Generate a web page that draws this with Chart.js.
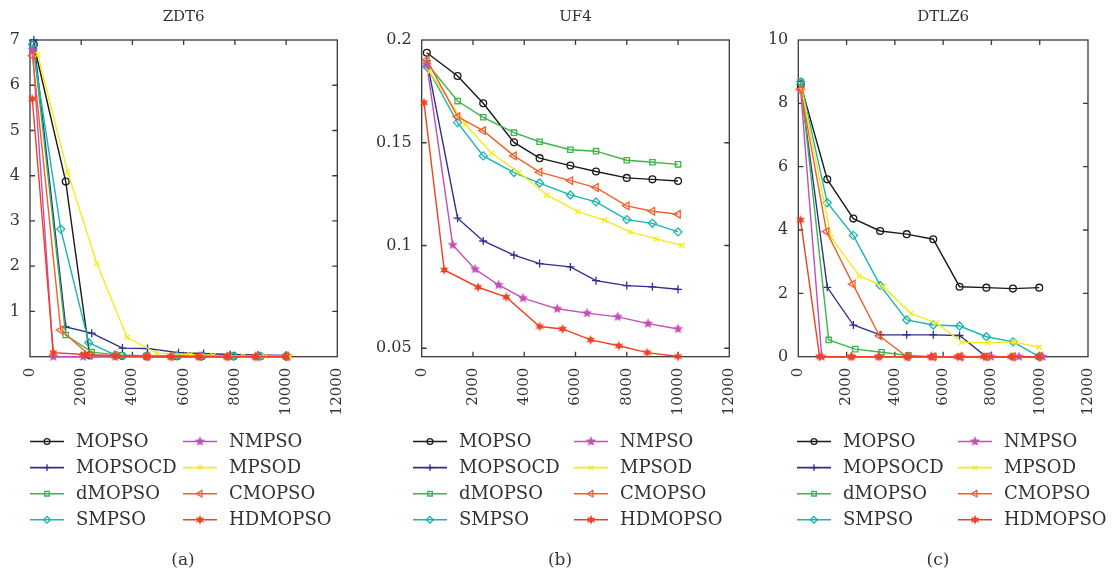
<!DOCTYPE html>
<html>
<head>
<meta charset="utf-8">
<script src="https://cdn.jsdelivr.net/npm/chart.js@4.4.1/dist/chart.umd.min.js"></script>
<style>
  html, body { margin: 0; padding: 0; background: #fff; }
  #wrap { position: relative; width: 1117px; height: 578px; overflow: hidden; background: #fff; }
  #wrap canvas { position: absolute; left: 0; top: 0; }
</style>
</head>
<body>
<div id="wrap">
  <canvas id="chartA" width="1117" height="578"></canvas>
  <canvas id="chartB" width="1117" height="578"></canvas>
  <canvas id="chartC" width="1117" height="578"></canvas>
</div>
<script>
// ---- algorithms ----
const SERIES = ['MOPSO', 'MOPSOCD', 'dMOPSO', 'SMPSO', 'NMPSO', 'MPSOD', 'CMOPSO', 'HDMOPSO'];

// ---- shared axis ticks ----
const X_TICKS = [0, 2000, 4000, 6000, 8000, 10000, 12000];
const ZDT6_Y_TICKS = [1, 2, 3, 4, 5, 6, 7];
const UF4_Y_TICKS = [0.05, 0.1, 0.15, 0.2];
const DTLZ6_Y_TICKS = [0, 2, 4, 6, 8, 10];

// ---- ZDT6 ----
const zdt6X_MOPSO   = [150, 1395, 2330, 3590, 4560, 5740, 6710, 7950, 8990, 10010];
const zdt6Y_MOPSO   = [6.9, 3.87, 0.03, 0.02, 0.01, 0.01, 0.01, 0.01, 0.01, 0.01];
const zdt6X_MOPSOCD = [150, 1395, 2410, 3610, 4590, 5800, 6780, 7820, 8900, 10010];
const zdt6Y_MOPSOCD = [7.0, 0.66, 0.52, 0.19, 0.18, 0.09, 0.07, 0.05, 0.04, 0.03];
const zdt6X_dMOPSO  = [150, 1395, 2410, 3580, 4560, 5740, 6710, 7950, 8990, 10010];
const zdt6Y_dMOPSO  = [6.8, 0.48, 0.10, 0.03, 0.02, 0.01, 0.01, 0.01, 0.01, 0.01];
const zdt6X_SMPSO   = [100, 1200, 2295, 3320, 4560, 5740, 6710, 7950, 8990, 10010];
const zdt6Y_SMPSO   = [6.9, 2.82, 0.31, 0.04, 0.02, 0.02, 0.01, 0.01, 0.01, 0.01];
const zdt6X_NMPSO   = [100, 910, 2080, 3320, 4560, 5500, 6590, 7690, 8800, 10060];
const zdt6Y_NMPSO   = [6.78, 0, 0, 0, 0, 0, 0, 0, 0, 0];
const zdt6X_MPSOD   = [300, 1470, 2610, 3790, 4950, 6250, 7150, 8320, 9160, 10150];
const zdt6Y_MPSOD   = [6.68, 4.08, 2.06, 0.43, 0.08, 0.05, 0.03, 0.02, 0.02, 0.01];
const zdt6X_CMOPSO  = [100, 1200, 2330, 3320, 4560, 5500, 6590, 7690, 8800, 10000];
const zdt6Y_CMOPSO  = [6.65, 0.59, 0.03, 0.02, 0.01, 0.01, 0.01, 0.01, 0.01, 0.01];
const zdt6X_HDMOPSO = [90, 910, 2150, 3320, 4560, 5500, 6590, 7690, 8800, 10000];
const zdt6Y_HDMOPSO = [5.7, 0.09, 0.05, 0.02, 0, 0, 0, 0, 0, 0];

// ---- UF4 ----
const uf4X_MOPSO   = [200, 1400, 2400, 3600, 4600, 5800, 6800, 8000, 9000, 10000];
const uf4Y_MOPSO   = [0.1938, 0.1825, 0.1692, 0.1502, 0.1425, 0.1389, 0.1360, 0.1329, 0.1322, 0.1314];
const uf4X_MOPSOCD = [200, 1400, 2400, 3600, 4600, 5800, 6800, 8000, 9000, 10000];
const uf4Y_MOPSOCD = [0.1900, 0.1133, 0.1022, 0.0953, 0.0912, 0.0896, 0.0829, 0.0805, 0.0799, 0.0787];
const uf4X_dMOPSO  = [200, 1400, 2400, 3600, 4600, 5800, 6800, 8000, 9000, 10000];
const uf4Y_dMOPSO  = [0.1887, 0.1703, 0.1624, 0.1549, 0.1505, 0.1466, 0.1459, 0.1415, 0.1405, 0.1395];
const uf4X_SMPSO   = [200, 1400, 2400, 3600, 4600, 5800, 6800, 8000, 9000, 10000];
const uf4Y_SMPSO   = [0.1870, 0.1598, 0.1436, 0.1355, 0.1304, 0.1246, 0.1212, 0.1126, 0.1108, 0.1066];
const uf4X_NMPSO   = [200, 1210, 2080, 3000, 3950, 5290, 6450, 7650, 8830, 10000];
const uf4Y_NMPSO   = [0.1880, 0.1003, 0.0885, 0.0808, 0.0744, 0.0692, 0.0671, 0.0653, 0.0620, 0.0594];
const uf4X_MPSOD   = [300, 1700, 2730, 3800, 4880, 6100, 7130, 8130, 9150, 10150];
const uf4Y_MPSOD   = [0.1846, 0.1590, 0.1449, 0.1355, 0.1246, 0.1165, 0.1123, 0.1066, 0.1032, 0.1001];
const uf4X_CMOPSO  = [200, 1400, 2400, 3600, 4600, 5800, 6800, 8000, 9000, 10000];
const uf4Y_CMOPSO  = [0.1903, 0.1627, 0.1559, 0.1436, 0.1357, 0.1316, 0.1282, 0.1193, 0.1167, 0.1152];
const uf4X_HDMOPSO = [90, 880, 2200, 3300, 4600, 5500, 6590, 7690, 8800, 10000];
const uf4Y_HDMOPSO = [0.1695, 0.0881, 0.0797, 0.0749, 0.0606, 0.0594, 0.0541, 0.0512, 0.0479, 0.0460];

// ---- DTLZ6 ----
const dtlz6X_MOPSO   = [100, 1200, 2280, 3390, 4490, 5590, 6680, 7790, 8890, 9980];
const dtlz6Y_MOPSO   = [8.6, 5.60, 4.36, 3.97, 3.87, 3.71, 2.21, 2.18, 2.15, 2.18];
const dtlz6X_MOPSOCD = [100, 1200, 2280, 3390, 4490, 5590, 6680, 7790, 8890, 9980];
const dtlz6Y_MOPSOCD = [8.5, 2.19, 1.00, 0.69, 0.69, 0.69, 0.67, 0, 0, 0];
const dtlz6X_dMOPSO  = [100, 1260, 2360, 3450, 4560, 5600, 6700, 7800, 8890, 9980];
const dtlz6Y_dMOPSO  = [8.68, 0.53, 0.24, 0.14, 0.04, 0, 0, 0, 0, 0];
const dtlz6X_SMPSO   = [100, 1200, 2280, 3390, 4490, 5590, 6680, 7790, 8890, 9980];
const dtlz6Y_SMPSO   = [8.68, 4.86, 3.83, 2.25, 1.16, 1.00, 0.97, 0.63, 0.47, 0];
const dtlz6X_NMPSO   = [100, 970, 2200, 3330, 4520, 5510, 6740, 7980, 9140, 10120];
const dtlz6Y_NMPSO   = [8.4, 0, 0, 0, 0, 0, 0, 0, 0, 0];
const dtlz6X_MPSOD   = [150, 1360, 2530, 3520, 4660, 5730, 6770, 7850, 8950, 9980];
const dtlz6Y_MPSOD   = [8.42, 3.77, 2.55, 2.21, 1.37, 1.06, 0.46, 0.44, 0.46, 0.30];
const dtlz6X_CMOPSO  = [100, 1170, 2260, 3360, 4500, 5600, 6700, 7800, 8890, 9980];
const dtlz6Y_CMOPSO  = [8.44, 3.95, 2.29, 0.66, 0, 0, 0, 0, 0, 0];
const dtlz6X_HDMOPSO = [93, 883, 2200, 3330, 4520, 5510, 6590, 7690, 8820, 9950];
const dtlz6Y_HDMOPSO = [4.32, 0, 0, 0, 0, 0, 0, 0, 0, 0];

// ---- styling ----
const FONT = '"DejaVu Serif", "Liberation Serif", serif';
const TEXT = '#333333';
const COLORS = ['#1a1a1a', '#2e2f8e', '#3db54a', '#1bb3b3', '#c24fb5', '#f7ea1c', '#f2602b', '#ef4123'];

function starImage(color, spikes, outer, inner) {
  const size = Math.ceil(outer * 2 + 2);
  const c = document.createElement('canvas');
  c.width = size; c.height = size;
  const g = c.getContext('2d');
  g.translate(size / 2, size / 2);
  g.beginPath();
  for (let i = 0; i < spikes * 2; i++) {
    const r = i % 2 ? inner : outer;
    const a = -Math.PI / 2 + i * Math.PI / spikes;
    g.lineTo(r * Math.cos(a), r * Math.sin(a));
  }
  g.closePath();
  g.fillStyle = color;
  g.fill();
  return c;
}

const MARKERS = [
  { style: 'circle',   radius: 3.4, rotation: 0,   fill: 'rgba(0,0,0,0)' },
  { style: 'cross',    radius: 4.0, rotation: 0,   fill: 'rgba(0,0,0,0)' },
  { style: 'rect',     radius: 3.8, rotation: 0,   fill: 'rgba(0,0,0,0)' },
  { style: 'rectRot',  radius: 4.0, rotation: 0,   fill: 'rgba(0,0,0,0)' },
  { style: starImage(COLORS[4], 5, 5.4, 2.4), radius: 4, rotation: 0, fill: COLORS[4] },
  { style: 'crossRot', radius: 3.6, rotation: 0,   fill: 'rgba(0,0,0,0)' },
  { style: 'triangle', radius: 4.4, rotation: -90, fill: 'rgba(0,0,0,0)' },
  { style: starImage(COLORS[7], 6, 5.0, 2.4), radius: 4, rotation: 0, fill: COLORS[7] }
];

function pairs(xs, ys) { return xs.map((x, i) => ({ x: x, y: ys[i] })); }

function buildDatasets(xs, ys) {
  return SERIES.map((name, i) => ({
    label: name,
    data: pairs(xs[i], ys[i]),
    borderColor: COLORS[i],
    backgroundColor: COLORS[i],
    borderWidth: 1.4,
    pointStyle: MARKERS[i].style,
    pointRadius: MARKERS[i].radius,
    pointRotation: MARKERS[i].rotation,
    pointBorderColor: COLORS[i],
    pointBackgroundColor: MARKERS[i].fill,
    pointBorderWidth: 1.3,
    tension: 0,
    fill: false,
    showLine: true,
    clip: false,
    order: SERIES.length - i
  }));
}

// frame, inward ticks, title, legend and caption for one panel
const panelDecor = {
  id: 'panelDecor',
  beforeDatasetsDraw(chart) {
    const { ctx, chartArea: a } = chart;
    const xs = chart.scales.x, ys = chart.scales.y;
    ctx.save();
    ctx.strokeStyle = '#3a3a3a';
    ctx.lineWidth = 1.3;
    ctx.strokeRect(a.left, a.top, a.right - a.left, a.bottom - a.top);
    ctx.beginPath();
    const tl = 5;
    xs.ticks.forEach(t => {
      const px = xs.getPixelForValue(t.value);
      if (px <= a.left + 1 || px >= a.right - 1) return;
      ctx.moveTo(px, a.bottom); ctx.lineTo(px, a.bottom - tl);
      ctx.moveTo(px, a.top); ctx.lineTo(px, a.top + tl);
    });
    ys.ticks.forEach(t => {
      const py = ys.getPixelForValue(t.value);
      if (py <= a.top + 1 || py >= a.bottom - 1) return;
      ctx.moveTo(a.left, py); ctx.lineTo(a.left + tl, py);
      ctx.moveTo(a.right, py); ctx.lineTo(a.right - tl, py);
    });
    ctx.stroke();
    ctx.restore();
  },
  afterDraw(chart, args, opts) {
    const { ctx, chartArea: a } = chart;
    ctx.save();
    ctx.fillStyle = TEXT;
    // title
    ctx.font = '15px ' + FONT;
    ctx.textAlign = 'center';
    ctx.textBaseline = 'alphabetic';
    ctx.fillText(opts.title, (a.left + a.right) / 2, 21);
    // legend: two columns of four
    const drawPoint = (Chart.helpers && Chart.helpers.drawPoint) ? Chart.helpers.drawPoint : null;
    chart.data.datasets.forEach((ds, i) => {
      const col = Math.floor(i / 4), row = i % 4;
      const lx = opts.legendX + col * opts.colGap;
      const ly = 441.5 + row * 26.1;
      ctx.strokeStyle = ds.borderColor;
      ctx.lineWidth = 1.6;
      ctx.beginPath();
      ctx.moveTo(lx, ly); ctx.lineTo(lx + 34, ly);
      ctx.stroke();
      ctx.fillStyle = ds.pointBackgroundColor;
      ctx.strokeStyle = ds.pointBorderColor;
      ctx.lineWidth = 1.3;
      if (drawPoint) {
        drawPoint(ctx, { pointStyle: ds.pointStyle, rotation: ds.pointRotation,
          radius: ds.pointRadius * 0.85, borderWidth: 1.3 }, lx + 17, ly);
      }
      ctx.fillStyle = TEXT;
      ctx.font = '18px ' + FONT;
      ctx.textAlign = 'left';
      ctx.textBaseline = 'middle';
      ctx.fillText(ds.label, lx + 46, ly + 1);
    });
    // caption
    ctx.font = '17px ' + FONT;
    ctx.textAlign = 'center';
    ctx.textBaseline = 'middle';
    ctx.fillText(opts.caption, opts.captionX, 561);
    ctx.restore();
  }
};

function makeChart(id, cfg) {
  const plotLeft = cfg.left, plotRight = cfg.right;
  const Y_AXIS_W = cfg.yAxisWidth, X_AXIS_H = 60;
  return new Chart(document.getElementById(id), {
    type: 'line',
    data: { datasets: buildDatasets(cfg.xs, cfg.ys) },
    options: {
      responsive: false,
      animation: false,
      events: [],
      layout: { padding: { left: plotLeft - Y_AXIS_W, right: 1117 - plotRight, top: 40, bottom: 578 - 356.7 - X_AXIS_H } },
      plugins: {
        legend: { display: false },
        tooltip: { enabled: false },
        title: { display: false },
        panelDecor: cfg.decor
      },
      scales: {
        x: {
          type: 'linear',
          min: 0, max: 12000,
          afterBuildTicks: s => { s.ticks = X_TICKS.map(v => ({ value: v })); },
          afterFit: s => { s.height = X_AXIS_H; },
          grid: { display: false, drawTicks: false },
          border: { display: false },
          ticks: { autoSkip: false, minRotation: 90, maxRotation: 90, padding: 11,
                   color: TEXT, font: { family: FONT, size: 15 }, callback: v => String(v) }
        },
        y: {
          type: 'linear',
          min: cfg.yMin, max: cfg.yMax,
          afterBuildTicks: s => { s.ticks = cfg.yTicks.map(v => ({ value: v })); },
          afterFit: s => { s.width = Y_AXIS_W; },
          grid: { display: false, drawTicks: false },
          border: { display: false },
          ticks: { padding: 10, color: TEXT, font: { family: FONT, size: 16 }, callback: v => String(v) }
        }
      }
    },
    plugins: [panelDecor]
  });
}

makeChart('chartA', {
  left: 30, right: 337.3, yMin: 0, yMax: 7, yTicks: ZDT6_Y_TICKS, yAxisWidth: 30,
  xs: [zdt6X_MOPSO, zdt6X_MOPSOCD, zdt6X_dMOPSO, zdt6X_SMPSO, zdt6X_NMPSO, zdt6X_MPSOD, zdt6X_CMOPSO, zdt6X_HDMOPSO],
  ys: [zdt6Y_MOPSO, zdt6Y_MOPSOCD, zdt6Y_dMOPSO, zdt6Y_SMPSO, zdt6Y_NMPSO, zdt6Y_MPSOD, zdt6Y_CMOPSO, zdt6Y_HDMOPSO],
  decor: { title: 'ZDT6', caption: '(a)', captionX: 183, legendX: 30, colGap: 153 }
});

makeChart('chartB', {
  left: 421.7, right: 729.3, yMin: 0.0459, yMax: 0.2, yTicks: UF4_Y_TICKS, yAxisWidth: 70,
  xs: [uf4X_MOPSO, uf4X_MOPSOCD, uf4X_dMOPSO, uf4X_SMPSO, uf4X_NMPSO, uf4X_MPSOD, uf4X_CMOPSO, uf4X_HDMOPSO],
  ys: [uf4Y_MOPSO, uf4Y_MOPSOCD, uf4Y_dMOPSO, uf4Y_SMPSO, uf4Y_NMPSO, uf4Y_MPSOD, uf4Y_CMOPSO, uf4Y_HDMOPSO],
  decor: { title: 'UF4', caption: '(b)', captionX: 560, legendX: 413, colGap: 161 }
});

makeChart('chartC', {
  left: 798.3, right: 1106.7, yMin: 0, yMax: 10, yTicks: DTLZ6_Y_TICKS, yAxisWidth: 50,
  xs: [dtlz6X_MOPSO, dtlz6X_MOPSOCD, dtlz6X_dMOPSO, dtlz6X_SMPSO, dtlz6X_NMPSO, dtlz6X_MPSOD, dtlz6X_CMOPSO, dtlz6X_HDMOPSO],
  ys: [dtlz6Y_MOPSO, dtlz6Y_MOPSOCD, dtlz6Y_dMOPSO, dtlz6Y_SMPSO, dtlz6Y_NMPSO, dtlz6Y_MPSOD, dtlz6Y_CMOPSO, dtlz6Y_HDMOPSO],
  decor: { title: 'DTLZ6', caption: '(c)', captionX: 938, legendX: 797, colGap: 161 }
});
</script>
</body>
</html>
